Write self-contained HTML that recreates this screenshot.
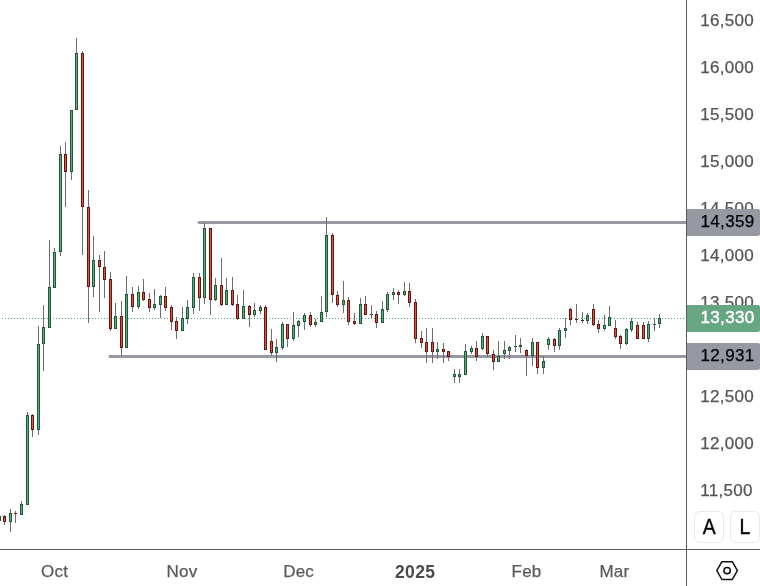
<!DOCTYPE html>
<html><head><meta charset="utf-8"><title>Chart</title>
<style>
html,body{margin:0;padding:0;background:#fff;}
body{width:760px;height:586px;position:relative;overflow:hidden;font-family:"Liberation Sans","DejaVu Sans",sans-serif;}
.chart{position:absolute;left:0;top:0;}
.vaxis{position:absolute;left:686px;top:0;width:1px;height:586px;background:#5a5a5a;}
.haxis{position:absolute;left:0;top:549px;width:760px;height:1px;background:#5a5a5a;}
.pl{position:absolute;left:700.2px;width:60px;height:20px;line-height:20px;font-size:17px;letter-spacing:0.3px;color:#555;-webkit-text-stroke:0.25px #555;white-space:nowrap;}
.tag{position:absolute;left:687px;width:73px;box-sizing:border-box;padding-left:13.6px;font-size:17px;letter-spacing:0.3px;white-space:nowrap;border-radius:0 2px 2px 0;}
.tag.gray{background:#9698a2;color:#000;-webkit-text-stroke:0.25px #000;}
.tag.green{background:#67a683;color:#fff;-webkit-text-stroke:0.45px #fff;}
.ml{position:absolute;top:560.6px;width:60px;height:22px;line-height:22px;text-align:center;font-size:17px;color:#5a5a5a;-webkit-text-stroke:0.25px #5a5a5a;letter-spacing:0.2px;white-space:nowrap;}
.ml.b{font-weight:bold;color:#4a4a4a;font-size:17.5px;letter-spacing:0.4px;-webkit-text-stroke:0;}
.btn{position:absolute;top:511px;height:32px;box-sizing:border-box;border:1px solid #e9e9ec;border-radius:6px;background:#fff;font-size:21.5px;line-height:31px;text-align:center;color:#000;-webkit-text-stroke:0.4px #000;}
.gear{position:absolute;left:714px;top:558px;}
</style></head><body>
<svg class="chart" width="686" height="549" viewBox="0 0 686 549" shape-rendering="crispEdges"><line x1="2" y1="318.5" x2="686" y2="318.5" stroke="#5aa87d" stroke-width="1" stroke-dasharray="1 2"/><line x1="199" y1="222.5" x2="686" y2="222.5" stroke="#9699a3" stroke-width="3" stroke-linecap="round" shape-rendering="auto"/><line x1="110" y1="356.5" x2="686" y2="356.5" stroke="#9699a3" stroke-width="3" stroke-linecap="round" shape-rendering="auto"/><rect x="-1" y="516" width="1" height="5" fill="#6e6e6e"/><rect x="-2" y="516" width="3" height="5" fill="#1f5a38"/><rect x="-1" y="517" width="1" height="3" fill="#62ab82"/><rect x="4" y="515" width="1" height="10" fill="#6e6e6e"/><rect x="3" y="516" width="3" height="6" fill="#64160f"/><rect x="4" y="517" width="1" height="4" fill="#dc5443"/><rect x="10" y="509" width="1" height="23" fill="#6e6e6e"/><rect x="9" y="513" width="3" height="9" fill="#1f5a38"/><rect x="10" y="514" width="1" height="7" fill="#62ab82"/><rect x="15" y="511" width="1" height="12" fill="#6e6e6e"/><rect x="14" y="513" width="3" height="1" fill="#64160f"/><rect x="21" y="501" width="1" height="14" fill="#6e6e6e"/><rect x="20" y="504" width="3" height="11" fill="#1f5a38"/><rect x="21" y="505" width="1" height="9" fill="#62ab82"/><rect x="27" y="412" width="1" height="93" fill="#6e6e6e"/><rect x="26" y="415" width="3" height="90" fill="#1f5a38"/><rect x="27" y="416" width="1" height="88" fill="#62ab82"/><rect x="32" y="414" width="1" height="23" fill="#6e6e6e"/><rect x="31" y="415" width="3" height="15" fill="#64160f"/><rect x="32" y="416" width="1" height="13" fill="#dc5443"/><rect x="38" y="326" width="1" height="109" fill="#6e6e6e"/><rect x="37" y="344" width="3" height="86" fill="#1f5a38"/><rect x="38" y="345" width="1" height="84" fill="#62ab82"/><rect x="43" y="305" width="1" height="66" fill="#6e6e6e"/><rect x="42" y="327" width="3" height="17" fill="#1f5a38"/><rect x="43" y="328" width="1" height="15" fill="#62ab82"/><rect x="49" y="240" width="1" height="88" fill="#6e6e6e"/><rect x="48" y="287" width="3" height="41" fill="#1f5a38"/><rect x="49" y="288" width="1" height="39" fill="#62ab82"/><rect x="54" y="248" width="1" height="40" fill="#6e6e6e"/><rect x="53" y="252" width="3" height="36" fill="#1f5a38"/><rect x="54" y="253" width="1" height="34" fill="#62ab82"/><rect x="60" y="146" width="1" height="110" fill="#6e6e6e"/><rect x="59" y="154" width="3" height="98" fill="#1f5a38"/><rect x="60" y="155" width="1" height="96" fill="#62ab82"/><rect x="65" y="142" width="1" height="65" fill="#6e6e6e"/><rect x="64" y="154" width="3" height="18" fill="#64160f"/><rect x="65" y="155" width="1" height="16" fill="#dc5443"/><rect x="71" y="110" width="1" height="70" fill="#6e6e6e"/><rect x="70" y="110" width="3" height="62" fill="#1f5a38"/><rect x="71" y="111" width="1" height="60" fill="#62ab82"/><rect x="76" y="38" width="1" height="72" fill="#6e6e6e"/><rect x="75" y="53" width="3" height="57" fill="#1f5a38"/><rect x="76" y="54" width="1" height="55" fill="#62ab82"/><rect x="82" y="51" width="1" height="204" fill="#6e6e6e"/><rect x="81" y="53" width="3" height="154" fill="#64160f"/><rect x="82" y="54" width="1" height="152" fill="#dc5443"/><rect x="88" y="190" width="1" height="133" fill="#6e6e6e"/><rect x="87" y="207" width="3" height="80" fill="#64160f"/><rect x="88" y="208" width="1" height="78" fill="#dc5443"/><rect x="93" y="236" width="1" height="61" fill="#6e6e6e"/><rect x="92" y="260" width="3" height="27" fill="#1f5a38"/><rect x="93" y="261" width="1" height="25" fill="#62ab82"/><rect x="99" y="255" width="1" height="57" fill="#6e6e6e"/><rect x="98" y="260" width="3" height="7" fill="#64160f"/><rect x="99" y="261" width="1" height="5" fill="#dc5443"/><rect x="104" y="251" width="1" height="47" fill="#6e6e6e"/><rect x="103" y="267" width="3" height="13" fill="#64160f"/><rect x="104" y="268" width="1" height="11" fill="#dc5443"/><rect x="110" y="272" width="1" height="59" fill="#6e6e6e"/><rect x="109" y="279" width="3" height="50" fill="#64160f"/><rect x="110" y="280" width="1" height="48" fill="#dc5443"/><rect x="115" y="303" width="1" height="26" fill="#6e6e6e"/><rect x="114" y="316" width="3" height="13" fill="#1f5a38"/><rect x="115" y="317" width="1" height="11" fill="#62ab82"/><rect x="121" y="301" width="1" height="55" fill="#6e6e6e"/><rect x="120" y="316" width="3" height="32" fill="#64160f"/><rect x="121" y="317" width="1" height="30" fill="#dc5443"/><rect x="126" y="276" width="1" height="72" fill="#6e6e6e"/><rect x="125" y="294" width="3" height="54" fill="#1f5a38"/><rect x="126" y="295" width="1" height="52" fill="#62ab82"/><rect x="132" y="287" width="1" height="25" fill="#6e6e6e"/><rect x="131" y="294" width="3" height="13" fill="#64160f"/><rect x="132" y="295" width="1" height="11" fill="#dc5443"/><rect x="138" y="286" width="1" height="23" fill="#6e6e6e"/><rect x="137" y="292" width="3" height="15" fill="#1f5a38"/><rect x="138" y="293" width="1" height="13" fill="#62ab82"/><rect x="143" y="279" width="1" height="22" fill="#6e6e6e"/><rect x="142" y="292" width="3" height="8" fill="#64160f"/><rect x="143" y="293" width="1" height="6" fill="#dc5443"/><rect x="149" y="293" width="1" height="19" fill="#6e6e6e"/><rect x="148" y="299" width="3" height="9" fill="#64160f"/><rect x="149" y="300" width="1" height="7" fill="#dc5443"/><rect x="154" y="289" width="1" height="21" fill="#6e6e6e"/><rect x="153" y="304" width="3" height="4" fill="#1f5a38"/><rect x="154" y="305" width="1" height="2" fill="#62ab82"/><rect x="160" y="295" width="1" height="23" fill="#6e6e6e"/><rect x="159" y="296" width="3" height="9" fill="#1f5a38"/><rect x="160" y="297" width="1" height="7" fill="#62ab82"/><rect x="165" y="287" width="1" height="24" fill="#6e6e6e"/><rect x="164" y="296" width="3" height="12" fill="#64160f"/><rect x="165" y="297" width="1" height="10" fill="#dc5443"/><rect x="171" y="305" width="1" height="25" fill="#6e6e6e"/><rect x="170" y="307" width="3" height="15" fill="#64160f"/><rect x="171" y="308" width="1" height="13" fill="#dc5443"/><rect x="176" y="317" width="1" height="22" fill="#6e6e6e"/><rect x="175" y="321" width="3" height="10" fill="#64160f"/><rect x="176" y="322" width="1" height="8" fill="#dc5443"/><rect x="182" y="307" width="1" height="24" fill="#6e6e6e"/><rect x="181" y="318" width="3" height="13" fill="#1f5a38"/><rect x="182" y="319" width="1" height="11" fill="#62ab82"/><rect x="187" y="300" width="1" height="24" fill="#6e6e6e"/><rect x="186" y="307" width="3" height="12" fill="#1f5a38"/><rect x="187" y="308" width="1" height="10" fill="#62ab82"/><rect x="193" y="273" width="1" height="41" fill="#6e6e6e"/><rect x="192" y="277" width="3" height="31" fill="#1f5a38"/><rect x="193" y="278" width="1" height="29" fill="#62ab82"/><rect x="199" y="273" width="1" height="38" fill="#6e6e6e"/><rect x="198" y="277" width="3" height="21" fill="#64160f"/><rect x="199" y="278" width="1" height="19" fill="#dc5443"/><rect x="204" y="223" width="1" height="81" fill="#6e6e6e"/><rect x="203" y="228" width="3" height="70" fill="#1f5a38"/><rect x="204" y="229" width="1" height="68" fill="#62ab82"/><rect x="210" y="228" width="1" height="87" fill="#6e6e6e"/><rect x="209" y="228" width="3" height="72" fill="#64160f"/><rect x="210" y="229" width="1" height="70" fill="#dc5443"/><rect x="215" y="278" width="1" height="23" fill="#6e6e6e"/><rect x="214" y="285" width="3" height="15" fill="#1f5a38"/><rect x="215" y="286" width="1" height="13" fill="#62ab82"/><rect x="221" y="258" width="1" height="48" fill="#6e6e6e"/><rect x="220" y="285" width="3" height="20" fill="#64160f"/><rect x="221" y="286" width="1" height="18" fill="#dc5443"/><rect x="226" y="278" width="1" height="27" fill="#6e6e6e"/><rect x="225" y="290" width="3" height="15" fill="#1f5a38"/><rect x="226" y="291" width="1" height="13" fill="#62ab82"/><rect x="232" y="277" width="1" height="29" fill="#6e6e6e"/><rect x="231" y="290" width="3" height="15" fill="#64160f"/><rect x="232" y="291" width="1" height="13" fill="#dc5443"/><rect x="237" y="295" width="1" height="25" fill="#6e6e6e"/><rect x="236" y="304" width="3" height="15" fill="#64160f"/><rect x="237" y="305" width="1" height="13" fill="#dc5443"/><rect x="243" y="290" width="1" height="29" fill="#6e6e6e"/><rect x="242" y="306" width="3" height="13" fill="#1f5a38"/><rect x="243" y="307" width="1" height="11" fill="#62ab82"/><rect x="249" y="305" width="1" height="22" fill="#6e6e6e"/><rect x="248" y="306" width="3" height="9" fill="#64160f"/><rect x="249" y="307" width="1" height="7" fill="#dc5443"/><rect x="254" y="303" width="1" height="14" fill="#6e6e6e"/><rect x="253" y="310" width="3" height="5" fill="#1f5a38"/><rect x="254" y="311" width="1" height="3" fill="#62ab82"/><rect x="260" y="305" width="1" height="9" fill="#6e6e6e"/><rect x="259" y="307" width="3" height="4" fill="#1f5a38"/><rect x="260" y="308" width="1" height="2" fill="#62ab82"/><rect x="265" y="305" width="1" height="45" fill="#6e6e6e"/><rect x="264" y="307" width="3" height="43" fill="#64160f"/><rect x="265" y="308" width="1" height="41" fill="#dc5443"/><rect x="271" y="329" width="1" height="26" fill="#6e6e6e"/><rect x="270" y="341" width="3" height="12" fill="#64160f"/><rect x="271" y="342" width="1" height="10" fill="#dc5443"/><rect x="276" y="339" width="1" height="23" fill="#6e6e6e"/><rect x="275" y="347" width="3" height="6" fill="#1f5a38"/><rect x="276" y="348" width="1" height="4" fill="#62ab82"/><rect x="282" y="322" width="1" height="28" fill="#6e6e6e"/><rect x="281" y="324" width="3" height="24" fill="#1f5a38"/><rect x="282" y="325" width="1" height="22" fill="#62ab82"/><rect x="287" y="324" width="1" height="23" fill="#6e6e6e"/><rect x="286" y="324" width="3" height="15" fill="#64160f"/><rect x="287" y="325" width="1" height="13" fill="#dc5443"/><rect x="293" y="312" width="1" height="29" fill="#6e6e6e"/><rect x="292" y="325" width="3" height="14" fill="#1f5a38"/><rect x="293" y="326" width="1" height="12" fill="#62ab82"/><rect x="298" y="320" width="1" height="17" fill="#6e6e6e"/><rect x="297" y="321" width="3" height="5" fill="#1f5a38"/><rect x="298" y="322" width="1" height="3" fill="#62ab82"/><rect x="304" y="313" width="1" height="17" fill="#6e6e6e"/><rect x="303" y="315" width="3" height="7" fill="#1f5a38"/><rect x="304" y="316" width="1" height="5" fill="#62ab82"/><rect x="310" y="312" width="1" height="15" fill="#6e6e6e"/><rect x="309" y="315" width="3" height="10" fill="#64160f"/><rect x="310" y="316" width="1" height="8" fill="#dc5443"/><rect x="315" y="319" width="1" height="8" fill="#6e6e6e"/><rect x="314" y="322" width="3" height="3" fill="#1f5a38"/><rect x="315" y="323" width="1" height="1" fill="#62ab82"/><rect x="321" y="296" width="1" height="26" fill="#6e6e6e"/><rect x="320" y="312" width="3" height="10" fill="#1f5a38"/><rect x="321" y="313" width="1" height="8" fill="#62ab82"/><rect x="326" y="217" width="1" height="100" fill="#6e6e6e"/><rect x="325" y="235" width="3" height="77" fill="#1f5a38"/><rect x="326" y="236" width="1" height="75" fill="#62ab82"/><rect x="332" y="233" width="1" height="70" fill="#6e6e6e"/><rect x="331" y="235" width="3" height="60" fill="#64160f"/><rect x="332" y="236" width="1" height="58" fill="#dc5443"/><rect x="337" y="291" width="1" height="16" fill="#6e6e6e"/><rect x="336" y="295" width="3" height="10" fill="#64160f"/><rect x="337" y="296" width="1" height="8" fill="#dc5443"/><rect x="343" y="281" width="1" height="32" fill="#6e6e6e"/><rect x="342" y="300" width="3" height="5" fill="#1f5a38"/><rect x="343" y="301" width="1" height="3" fill="#62ab82"/><rect x="348" y="297" width="1" height="28" fill="#6e6e6e"/><rect x="347" y="300" width="3" height="22" fill="#64160f"/><rect x="348" y="301" width="1" height="20" fill="#dc5443"/><rect x="354" y="313" width="1" height="12" fill="#6e6e6e"/><rect x="353" y="321" width="3" height="3" fill="#64160f"/><rect x="354" y="322" width="1" height="1" fill="#dc5443"/><rect x="360" y="298" width="1" height="26" fill="#6e6e6e"/><rect x="359" y="304" width="3" height="20" fill="#1f5a38"/><rect x="360" y="305" width="1" height="18" fill="#62ab82"/><rect x="365" y="296" width="1" height="19" fill="#6e6e6e"/><rect x="364" y="304" width="3" height="11" fill="#64160f"/><rect x="365" y="305" width="1" height="9" fill="#dc5443"/><rect x="371" y="305" width="1" height="14" fill="#6e6e6e"/><rect x="370" y="314" width="3" height="1" fill="#1f5a38"/><rect x="376" y="311" width="1" height="17" fill="#6e6e6e"/><rect x="375" y="314" width="3" height="9" fill="#64160f"/><rect x="376" y="315" width="1" height="7" fill="#dc5443"/><rect x="382" y="301" width="1" height="22" fill="#6e6e6e"/><rect x="381" y="309" width="3" height="14" fill="#1f5a38"/><rect x="382" y="310" width="1" height="12" fill="#62ab82"/><rect x="387" y="292" width="1" height="20" fill="#6e6e6e"/><rect x="386" y="294" width="3" height="16" fill="#1f5a38"/><rect x="387" y="295" width="1" height="14" fill="#62ab82"/><rect x="393" y="288" width="1" height="12" fill="#6e6e6e"/><rect x="392" y="292" width="3" height="3" fill="#1f5a38"/><rect x="393" y="293" width="1" height="1" fill="#62ab82"/><rect x="398" y="290" width="1" height="14" fill="#6e6e6e"/><rect x="397" y="292" width="3" height="3" fill="#64160f"/><rect x="398" y="293" width="1" height="1" fill="#dc5443"/><rect x="404" y="282" width="1" height="14" fill="#6e6e6e"/><rect x="403" y="291" width="3" height="4" fill="#1f5a38"/><rect x="404" y="292" width="1" height="2" fill="#62ab82"/><rect x="409" y="283" width="1" height="24" fill="#6e6e6e"/><rect x="408" y="291" width="3" height="12" fill="#64160f"/><rect x="409" y="292" width="1" height="10" fill="#dc5443"/><rect x="415" y="299" width="1" height="44" fill="#6e6e6e"/><rect x="414" y="302" width="3" height="37" fill="#64160f"/><rect x="415" y="303" width="1" height="35" fill="#dc5443"/><rect x="421" y="331" width="1" height="17" fill="#6e6e6e"/><rect x="420" y="338" width="3" height="5" fill="#64160f"/><rect x="421" y="339" width="1" height="3" fill="#dc5443"/><rect x="426" y="328" width="1" height="35" fill="#6e6e6e"/><rect x="425" y="342" width="3" height="10" fill="#64160f"/><rect x="426" y="343" width="1" height="8" fill="#dc5443"/><rect x="432" y="328" width="1" height="35" fill="#6e6e6e"/><rect x="431" y="342" width="3" height="10" fill="#64160f"/><rect x="432" y="343" width="1" height="8" fill="#dc5443"/><rect x="437" y="342" width="1" height="17" fill="#6e6e6e"/><rect x="436" y="349" width="3" height="3" fill="#1f5a38"/><rect x="437" y="350" width="1" height="1" fill="#62ab82"/><rect x="443" y="343" width="1" height="20" fill="#6e6e6e"/><rect x="442" y="349" width="3" height="3" fill="#64160f"/><rect x="443" y="350" width="1" height="1" fill="#dc5443"/><rect x="448" y="351" width="1" height="10" fill="#6e6e6e"/><rect x="447" y="351" width="3" height="6" fill="#64160f"/><rect x="448" y="352" width="1" height="4" fill="#dc5443"/><rect x="454" y="369" width="1" height="14" fill="#6e6e6e"/><rect x="453" y="374" width="3" height="3" fill="#1f5a38"/><rect x="454" y="375" width="1" height="1" fill="#62ab82"/><rect x="459" y="369" width="1" height="14" fill="#6e6e6e"/><rect x="458" y="374" width="3" height="3" fill="#1f5a38"/><rect x="459" y="375" width="1" height="1" fill="#62ab82"/><rect x="465" y="344" width="1" height="31" fill="#6e6e6e"/><rect x="464" y="351" width="3" height="24" fill="#1f5a38"/><rect x="465" y="352" width="1" height="22" fill="#62ab82"/><rect x="471" y="346" width="1" height="8" fill="#6e6e6e"/><rect x="470" y="348" width="3" height="4" fill="#1f5a38"/><rect x="471" y="349" width="1" height="2" fill="#62ab82"/><rect x="476" y="341" width="1" height="20" fill="#6e6e6e"/><rect x="475" y="348" width="3" height="9" fill="#64160f"/><rect x="476" y="349" width="1" height="7" fill="#dc5443"/><rect x="482" y="333" width="1" height="17" fill="#6e6e6e"/><rect x="481" y="336" width="3" height="13" fill="#1f5a38"/><rect x="482" y="337" width="1" height="11" fill="#62ab82"/><rect x="487" y="336" width="1" height="21" fill="#6e6e6e"/><rect x="486" y="336" width="3" height="18" fill="#64160f"/><rect x="487" y="337" width="1" height="16" fill="#dc5443"/><rect x="493" y="350" width="1" height="20" fill="#6e6e6e"/><rect x="492" y="354" width="3" height="8" fill="#64160f"/><rect x="493" y="355" width="1" height="6" fill="#dc5443"/><rect x="498" y="341" width="1" height="21" fill="#6e6e6e"/><rect x="497" y="356" width="3" height="6" fill="#1f5a38"/><rect x="498" y="357" width="1" height="4" fill="#62ab82"/><rect x="504" y="341" width="1" height="18" fill="#6e6e6e"/><rect x="503" y="350" width="3" height="4" fill="#1f5a38"/><rect x="504" y="351" width="1" height="2" fill="#62ab82"/><rect x="509" y="346" width="1" height="13" fill="#6e6e6e"/><rect x="508" y="347" width="3" height="4" fill="#1f5a38"/><rect x="509" y="348" width="1" height="2" fill="#62ab82"/><rect x="515" y="335" width="1" height="17" fill="#6e6e6e"/><rect x="514" y="346" width="3" height="1" fill="#1f5a38"/><rect x="520" y="338" width="1" height="15" fill="#6e6e6e"/><rect x="519" y="345" width="3" height="2" fill="#1f5a38"/><rect x="526" y="349" width="1" height="27" fill="#6e6e6e"/><rect x="525" y="350" width="3" height="6" fill="#64160f"/><rect x="526" y="351" width="1" height="4" fill="#dc5443"/><rect x="532" y="338" width="1" height="28" fill="#6e6e6e"/><rect x="531" y="342" width="3" height="14" fill="#1f5a38"/><rect x="532" y="343" width="1" height="12" fill="#62ab82"/><rect x="537" y="342" width="1" height="32" fill="#6e6e6e"/><rect x="536" y="342" width="3" height="26" fill="#64160f"/><rect x="537" y="343" width="1" height="24" fill="#dc5443"/><rect x="543" y="356" width="1" height="18" fill="#6e6e6e"/><rect x="542" y="361" width="3" height="7" fill="#1f5a38"/><rect x="543" y="362" width="1" height="5" fill="#62ab82"/><rect x="548" y="337" width="1" height="13" fill="#6e6e6e"/><rect x="547" y="339" width="3" height="6" fill="#1f5a38"/><rect x="548" y="340" width="1" height="4" fill="#62ab82"/><rect x="554" y="338" width="1" height="14" fill="#6e6e6e"/><rect x="553" y="339" width="3" height="7" fill="#64160f"/><rect x="554" y="340" width="1" height="5" fill="#dc5443"/><rect x="559" y="328" width="1" height="22" fill="#6e6e6e"/><rect x="558" y="330" width="3" height="16" fill="#1f5a38"/><rect x="559" y="331" width="1" height="14" fill="#62ab82"/><rect x="565" y="318" width="1" height="20" fill="#6e6e6e"/><rect x="564" y="328" width="3" height="3" fill="#1f5a38"/><rect x="565" y="329" width="1" height="1" fill="#62ab82"/><rect x="570" y="308" width="1" height="17" fill="#6e6e6e"/><rect x="569" y="309" width="3" height="11" fill="#64160f"/><rect x="570" y="310" width="1" height="9" fill="#dc5443"/><rect x="576" y="304" width="1" height="19" fill="#6e6e6e"/><rect x="575" y="319" width="3" height="1" fill="#64160f"/><rect x="582" y="312" width="1" height="11" fill="#6e6e6e"/><rect x="581" y="320" width="3" height="1" fill="#64160f"/><rect x="587" y="313" width="1" height="11" fill="#6e6e6e"/><rect x="586" y="315" width="3" height="6" fill="#1f5a38"/><rect x="587" y="316" width="1" height="4" fill="#62ab82"/><rect x="593" y="304" width="1" height="22" fill="#6e6e6e"/><rect x="592" y="309" width="3" height="16" fill="#64160f"/><rect x="593" y="310" width="1" height="14" fill="#dc5443"/><rect x="598" y="320" width="1" height="13" fill="#6e6e6e"/><rect x="597" y="324" width="3" height="5" fill="#64160f"/><rect x="598" y="325" width="1" height="3" fill="#dc5443"/><rect x="604" y="315" width="1" height="16" fill="#6e6e6e"/><rect x="603" y="325" width="3" height="4" fill="#1f5a38"/><rect x="604" y="326" width="1" height="2" fill="#62ab82"/><rect x="609" y="306" width="1" height="20" fill="#6e6e6e"/><rect x="608" y="317" width="3" height="9" fill="#1f5a38"/><rect x="609" y="318" width="1" height="7" fill="#62ab82"/><rect x="615" y="320" width="1" height="19" fill="#6e6e6e"/><rect x="614" y="328" width="3" height="9" fill="#64160f"/><rect x="615" y="329" width="1" height="7" fill="#dc5443"/><rect x="620" y="335" width="1" height="14" fill="#6e6e6e"/><rect x="619" y="336" width="3" height="8" fill="#64160f"/><rect x="620" y="337" width="1" height="6" fill="#dc5443"/><rect x="626" y="328" width="1" height="17" fill="#6e6e6e"/><rect x="625" y="329" width="3" height="15" fill="#1f5a38"/><rect x="626" y="330" width="1" height="13" fill="#62ab82"/><rect x="631" y="318" width="1" height="14" fill="#6e6e6e"/><rect x="630" y="321" width="3" height="9" fill="#1f5a38"/><rect x="631" y="322" width="1" height="7" fill="#62ab82"/><rect x="637" y="322" width="1" height="17" fill="#6e6e6e"/><rect x="636" y="325" width="3" height="14" fill="#64160f"/><rect x="637" y="326" width="1" height="12" fill="#dc5443"/><rect x="643" y="322" width="1" height="17" fill="#6e6e6e"/><rect x="642" y="325" width="3" height="14" fill="#64160f"/><rect x="643" y="326" width="1" height="12" fill="#dc5443"/><rect x="648" y="321" width="1" height="21" fill="#6e6e6e"/><rect x="647" y="324" width="3" height="15" fill="#1f5a38"/><rect x="648" y="325" width="1" height="13" fill="#62ab82"/><rect x="654" y="318" width="1" height="13" fill="#6e6e6e"/><rect x="653" y="324" width="3" height="1" fill="#1f5a38"/><rect x="659" y="314" width="1" height="14" fill="#6e6e6e"/><rect x="658" y="318" width="3" height="6" fill="#1f5a38"/><rect x="659" y="319" width="1" height="4" fill="#62ab82"/></svg>
<div class="vaxis"></div><div class="haxis"></div>
<div class="pl" style="top:10.7px">16,500</div><div class="pl" style="top:57.7px">16,000</div><div class="pl" style="top:104.7px">15,500</div><div class="pl" style="top:151.7px">15,000</div><div class="pl" style="top:198.7px">14,500</div><div class="pl" style="top:245.7px">14,000</div><div class="pl" style="top:292.7px">13,500</div><div class="pl" style="top:339.7px">13,000</div><div class="pl" style="top:386.7px">12,500</div><div class="pl" style="top:433.7px">12,000</div><div class="pl" style="top:480.7px">11,500</div>
<div class="tag gray" style="top:209px;height:27px;line-height:26px;">14,359</div>
<div class="tag green" style="top:305px;height:27px;line-height:26px;">13,330</div>
<div class="tag gray" style="top:343px;height:27px;line-height:26px;">12,931</div>
<div class="ml" style="left:24.6px">Oct</div><div class="ml" style="left:152.0px">Nov</div><div class="ml" style="left:268.6px">Dec</div><div class="ml b" style="left:385.2px">2025</div><div class="ml" style="left:496.5px">Feb</div><div class="ml" style="left:584.4px">Mar</div>
<div class="btn" style="left:694px;width:30px;"><span style="display:inline-block;transform:scaleX(0.9)">A</span></div>
<div class="btn" style="left:730px;width:30px;"><span style="display:inline-block;transform:scaleX(0.9)">L</span></div>
<svg class="gear" width="26" height="26" viewBox="0 0 26 26"><polygon points="2.8,12.6 7.9,3.7 18.3,3.7 23.4,12.6 18.3,21.5 7.9,21.5" fill="none" stroke="#111" stroke-width="1.5" stroke-linejoin="round"/><circle cx="13.1" cy="12.6" r="3.2" fill="none" stroke="#111" stroke-width="1.5"/></svg>
</body></html>
